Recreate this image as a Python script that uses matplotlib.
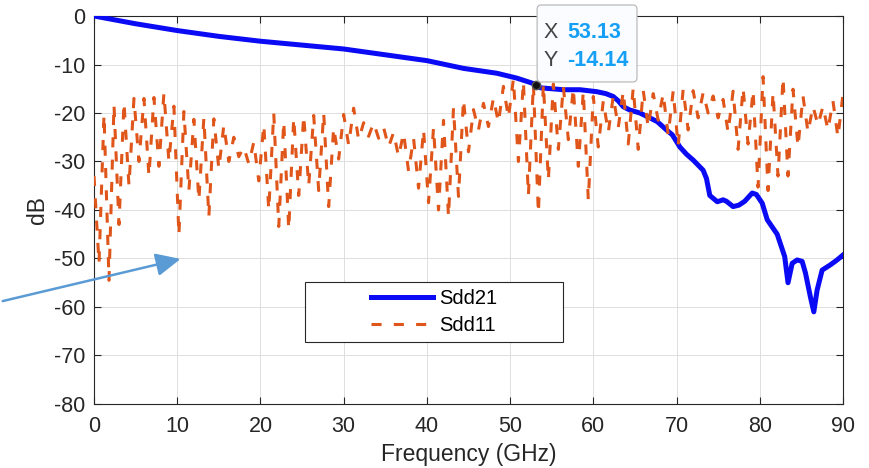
import matplotlib.pyplot as plt
import numpy as np
from matplotlib.patches import Rectangle, FancyBboxPatch, FancyArrowPatch

plt.rcParams['font.family'] = ['Liberation Sans', 'DejaVu Sans']
plt.rcParams['axes.unicode_minus'] = False

# Sdd21 (insertion loss)
sdd21_freq = [0, 5, 10, 15, 20, 25, 30, 35, 40, 44.4, 48.4, 50.8, 52.4, 53.13, 53.6,
              55, 56.4, 58.4, 60.4, 61.5, 62.4, 63.0, 63.6, 64.4, 65.6, 66.8, 67.7,
              68.8, 69.5, 70.4, 71.2, 72, 73.2, 73.6, 74, 74.9, 75.6, 76, 76.8, 77.5,
              78.2, 79.1, 79.6, 80.3, 80.9, 81.5, 82.1, 83.0, 83.4, 83.9, 84.5, 85.1,
              85.5, 86.1, 86.5, 86.9, 87.5, 88.5, 89.3, 90]
sdd21_db = [0, -1.6, -3.0, -4.2, -5.2, -6.0, -6.8, -8.0, -9.2, -10.8, -11.8, -12.8,
            -13.7, -14.14, -14.8, -15.0, -15.2, -15.2, -15.6, -16.0, -16.6, -17.5,
            -18.7, -19.4, -20.0, -21.0, -21.8, -23.5, -24.5, -27.0, -28.5, -29.7,
            -31.8, -33.5, -37.0, -38.3, -37.9, -38.2, -39.3, -39.0, -38.2, -36.5,
            -36.8, -38.6, -42.0, -43.5, -45.0, -49.6, -55.0, -51.0, -50.3, -50.6,
            -53.0, -58.0, -61.0, -56.5, -52.4, -51.3, -50.3, -49.3]

# Sdd11 ripple: local maxima every 1.2 GHz (0..90) and the minima between them
sdd11_peak_db = [
    -33, -20.3, -18.3, -17.8, -17, -17, -16.8, -15.9, -18.6, -19.7,
    -21.3, -21, -21.2, -22.5, -25, -27, -26, -22.4, -20, -21.7,
    -21, -20.5, -20.5, -20, -23, -20.3, -19, -22, -22, -23,
    -24, -24.1, -25.2, -23.4, -23, -21.5, -19, -17.2, -19.3, -18,
    -16.9, -14.5, -13, -13.5, -14, -14, -14, -14.5, -14.8, -15.5,
    -16.6, -17.5, -16.5, -15.5, -14.8, -15.3, -16, -16, -15.5, -15.1,
    -15.4, -15.8, -16.5, -17.2, -15.5, -14.8, -15.3, -12.5, -15.8, -12.7,
    -15.1, -16.5, -18.6, -18.6, -17.5, -16.2]
sdd11_dip_db = [
    -51, -54.5, -43, -35, -30, -33, -31, -30, -45.2, -36,
    -38, -41.4, -31.5, -30, -29, -30.5, -34, -40, -43.4, -44,
    -37, -35, -36, -39.3, -29.5, -26.6, -25.5, -24.8, -25.2, -27,
    -29, -32, -35.5, -38.5, -40, -41.4, -37.2, -28, -23.5, -22.8,
    -22, -21, -30, -37, -40.7, -33.8, -27.5, -25.5, -31, -37.9,
    -27, -24, -23, -26.4, -27.5, -23, -21.5, -24.5, -26.8, -23.5,
    -21, -20, -21, -24, -27.5, -26.4, -35.3, -36, -33, -33,
    -27, -24, -22.5, -23.5, -25]

peak_freq = np.arange(len(sdd11_peak_db)) * 1.2
dip_freq = np.arange(len(sdd11_dip_db)) * 1.2 + 0.6
sdd11_freq = np.empty(len(peak_freq) + len(dip_freq))
sdd11_freq[0::2] = peak_freq
sdd11_freq[1::2] = dip_freq
sdd11_db = np.empty_like(sdd11_freq)
sdd11_db[0::2] = sdd11_peak_db
sdd11_db[1::2] = sdd11_dip_db

tip_x, tip_y = 53.13, -14.14

axis_col = '#262626'
fig = plt.figure(figsize=(8.69, 4.68), dpi=100)
ax = fig.add_axes([0.1082, 0.1368, 0.8618, 0.829])

ax.plot(sdd21_freq, sdd21_db, color='#0A0AF5', lw=3.6, label='Sdd21',
        solid_joinstyle='round', zorder=3)
ax.plot(sdd11_freq, sdd11_db, color='#E0561A', lw=2.2, dashes=(3.3, 4.0),
        label='Sdd11', zorder=3.5)

ax.set_xlim(0, 90)
ax.set_ylim(-80, 0)
ax.set_xticks(np.arange(0, 91, 10))
ax.set_yticks(np.arange(-80, 1, 10))
ax.grid(True, color='#DEDEDE', lw=0.7)
ax.set_axisbelow(True)
ax.tick_params(direction='in', length=5, width=0.8, colors=axis_col,
               labelsize=15.5, top=True, right=True, labeltop=False, labelright=False)
ax.tick_params(axis='x', pad=9)
ax.tick_params(axis='y', pad=6)
for s in ax.spines.values():
    s.set_color(axis_col)
    s.set_linewidth(0.8)
ax.set_xlabel('Frequency (GHz)', fontsize=16.5, color=axis_col, labelpad=4)
ax.set_ylabel('dB', fontsize=16.5, color=axis_col, labelpad=4)

# legend: wide white box with centred entries
ax.add_patch(Rectangle((0.282, 0.160), 0.344, 0.154, transform=ax.transAxes,
                       facecolor='white', edgecolor=axis_col, lw=0.8, zorder=4))
ax.legend(loc='center', bbox_to_anchor=(0.454, 0.237), frameon=False, fontsize=14.5,
          handlelength=3.1, handletextpad=0.3, labelspacing=0.4)

# data tip
ax.plot([tip_x], [tip_y], 'o', ms=6, color='#111111', mec='#555555', zorder=6)
ax.add_patch(FancyBboxPatch((53.25, -13.6), 12.0, 15.87,
                            boxstyle='round,pad=0,rounding_size=0.5', mutation_aspect=1.715,
                            facecolor='#FAFCFF', edgecolor='#BBBBBB', lw=0.9,
                            clip_on=False, zorder=7))
for lab, val, yy in (('X', f'{tip_x:.2f}', -3.3), ('Y', f'{tip_y:.2f}', -9.1)):
    ax.text(53.97, yy, lab, color='#444444', fontsize=15.5, va='center',
            clip_on=False, zorder=8)
    ax.text(56.85, yy, val, color='#16A0F5', fontsize=15.5, fontweight='bold',
            va='center', clip_on=False, zorder=8)

# pointer arrow drawn on the slide
fig.add_artist(FancyArrowPatch((0.0, 0.3553), (0.2109, 0.4481), transform=fig.transFigure,
                               arrowstyle='-|>,head_length=0.75,head_width=0.35',
                               mutation_scale=20, color='#5B9BD5', lw=1.8))

fig.savefig('out.png', dpi=100)
